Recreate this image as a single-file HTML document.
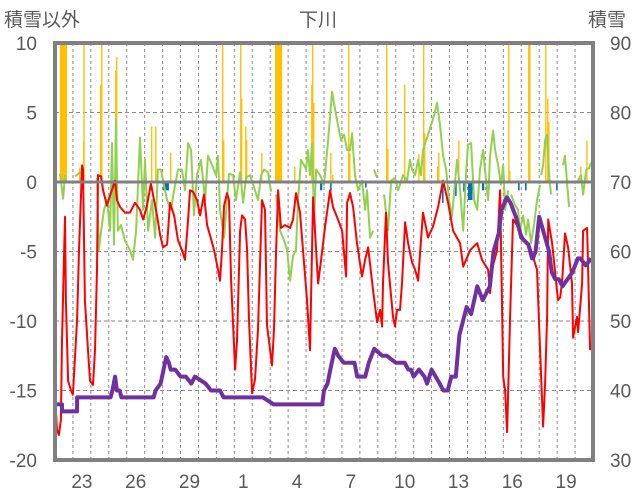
<!DOCTYPE html>
<html><head><meta charset="utf-8">
<style>
html,body{margin:0;padding:0;background:#fff;}
svg{display:block;font-family:"Liberation Sans","Noto Sans CJK JP",sans-serif;}
</style></head>
<body>
<svg id="chart" width="636" height="501" viewBox="0 0 636 501" xmlns="http://www.w3.org/2000/svg">
<text x="318" y="26" text-anchor="middle" font-size="19" fill="#595959" font-family="'Liberation Sans','Noto Sans CJK JP',sans-serif">下川</text>
<text x="4" y="26" font-size="19" fill="#595959" font-family="'Liberation Sans','Noto Sans CJK JP',sans-serif">積雪以外</text>
<text x="588" y="26" font-size="19" fill="#595959" font-family="'Liberation Sans','Noto Sans CJK JP',sans-serif">積雪</text>
<g id="grid"></g>
<g id="marks"></g>
<g id="axes"></g>
</svg>
<script>
// ---- data ----
const xLabels = ["23","26","29","1","4","7","10","13","16","19"];
const xLabelDays = [1,4,7,10,13,16,19,22,25,28];
const leftTicks = [10,5,0,-5,-10,-15,-20];
const rightTicks = [90,80,70,60,50,40,30];
const nDays = 30;

const redDay = [0,0.11,0.22,0.33,0.39,0.56,0.61,0.73,0.89,1.0,1.23,1.34,1.51,1.56,1.67,1.84,1.95,2.12,2.23,2.34,2.40,2.57,2.68,2.90,3.01,3.35,3.46,3.63,3.9,4.18,4.46,4.74,4.91,5.13,5.35,5.52,5.69,5.86,6.02,6.25,6.41,6.64,6.86,7.08,7.25,7.42,7.53,7.70,7.92,8.09,8.31,8.48,8.64,8.87,9.09,9.2,9.31,9.43,9.59,9.7,9.82,10.04,10.15,10.32,10.43,10.6,10.71,10.82,10.99,11.15,11.32,11.54,11.71,11.82,12.1,12.21,12.33,12.44,12.6,12.83,13.11,13.27,13.44,13.66,13.83,14.05,14.22,14.39,14.56,14.67,14.84,15.06,15.34,15.5,15.78,16.01,16.23,16.29,16.45,16.62,16.84,17.12,17.29,17.46,17.74,17.96,18.13,18.24,18.29,18.46,18.57,18.85,18.96,19.07,19.24,19.35,19.52,19.69,19.91,20.08,20.25,20.52,20.8,21.08,21.36,21.64,21.92,22.2,22.59,22.76,23.15,23.54,23.81,24.15,24.26,24.37,24.65,24.82,24.99,25.1,25.21,25.27,25.38,25.54,25.82,26.1,26.49,26.88,27.05,27.22,27.33,27.44,27.5,27.72,28.05,28.17,28.28,28.44,28.61,28.83,28.89,29.11,29.17,29.39,29.45,29.67,29.84];
const redVal = [-15.3,-17.8,-18.2,-17.1,-11.4,-2.5,-8.5,-14.3,-15,-15.3,-9.9,-4.9,1.2,0.9,-8.5,-12.1,-14.3,-14.6,-12.1,-6.3,0.5,0.4,-0.6,-1.7,-1.2,0.1,-1.3,-1.8,-2.2,-2.2,-1.5,-2,-2.7,-1.7,-0.1,-1.3,-2.4,-3.8,-4.7,-4.5,-1.5,-2.4,-4.2,-4.9,-5.6,-2.7,-0.6,-0.7,-1.3,-2.4,-0.9,-3.1,-3.8,-4.9,-6.3,-7.1,-4.9,-1.7,-0.8,-1.3,-7.1,-13.5,-11.4,-3.5,-2.4,-2.7,-4.9,-9.9,-15.2,-14.2,-10.6,-1.3,-2,-10.3,-13.2,-10.6,-4.9,-0.6,-3.3,-3.1,-3.3,-2.7,-0.8,-2.2,-4.9,-8.5,-12.1,-1.1,-4.9,-7.3,-5.6,-3.2,-0.6,-1.8,-2.7,-3.5,-6.8,-1.5,-0.8,-1.8,-4.4,-6.8,-5.6,-4.7,-7.8,-10.1,-9.2,-10.4,-7.3,-2.2,-5.8,-9.7,-10.4,-9.2,-9.2,-7.3,-2.9,-4.4,-5.8,-6.3,-7.1,-2.2,-4,-3.2,-1.8,0.1,-1.5,-3.5,-4.4,-6.1,-4.9,-4.4,-5.6,-6.3,-8,-6.3,-4.9,-0.6,-14,-15,-18,-15,-9.7,-2.7,-3.2,-4,-4.7,-6.3,-12.1,-17.6,-14.5,-9.7,-2.7,-4.4,-8.5,-8.3,-7.1,-3.7,-4.7,-7.3,-11.2,-9.7,-10.8,-7.3,-3.5,-3.3,-12.1];

const greenDay = [0.28,0.45,0.56,null,1.12,1.39,1.67,null,2.34,2.45,2.57,2.73,2.9,3.07,3.18,3.29,3.4,3.51,3.68,3.9,4.18,4.35,4.52,4.74,4.91,5.02,5.19,5.41,5.58,5.74,5.91,6.02,6.25,6.47,6.64,6.86,7.08,7.25,7.42,7.59,7.75,7.92,8.14,8.37,8.53,8.76,8.98,9.09,9.2,9.43,9.7,9.93,10.09,10.32,10.49,10.65,10.88,11.15,11.32,11.49,11.66,11.88,12.05,null,12.33,12.55,12.77,12.94,13.11,13.27,13.44,13.55,13.72,13.89,14,14.11,14.22,14.33,14.45,14.56,14.78,15,15.23,15.45,15.62,15.78,15.95,16.12,16.29,16.45,16.56,16.73,16.9,17.12,17.29,17.4,17.57,17.74,null,17.79,17.96,null,18.35,18.57,18.74,18.96,19.13,19.41,19.63,19.8,19.91,20.08,20.25,20.41,20.52,20.75,20.97,21.14,21.3,21.47,21.64,21.81,21.97,22.14,22.31,22.42,22.59,22.76,22.92,23.03,23.2,23.37,23.54,23.7,23.87,24.04,24.15,24.26,24.43,24.54,24.71,24.87,24.99,25.1,25.27,null,25.43,25.66,25.82,25.93,26.1,26.27,26.38,26.55,26.71,26.88,27.05,null,27.11,27.22,27.33,27.44,27.55,27.66,null,28.33,28.44,28.56,28.67,null,29.17,29.33,29.45,29.62,29.78,29.9];
const greenVal = [0.6,-1.2,0.5,null,0.4,0.7,0.4,null,0.3,-4.9,-3.5,-2,-1.3,-3.5,2.8,-4.5,4.5,-3.5,-3.1,-4.2,-4.9,-5.6,-3.5,3.2,-2,1.6,-3.5,-1.3,-4,0.9,0.9,0.1,-1.3,-2,-0.6,0.9,0.9,-0.6,2.8,2.3,-2.4,0.5,1.6,-1.3,1.9,1.2,0.5,1.9,-2,-4,0.6,0.5,-1.3,0.7,-1.5,0.3,0.5,-0.6,-1.3,0.5,0.9,0.7,-0.7,null,-0.9,-3.5,-4.2,-4.9,-7.1,-5.3,-4.9,-1.3,1.6,1.2,0.9,2.3,0.5,2.8,-2.7,0.9,0.5,-0.2,3,6.5,5.2,4.1,3,3.4,2.3,2.3,3.5,0.5,-0.6,0.1,-2,-0.6,-4,-3.5,null,0.9,0.3,null,-0.9,-3.5,0.1,0.3,-0.6,0.5,0.1,1.6,0.9,0.5,1.6,0.5,2.3,3.2,4.1,4.8,5.7,4.1,1.9,0.9,-1.3,-2.5,0.1,1.6,-0.6,-3.5,0.5,2.7,2.8,-1.3,-2,0.9,2.3,0.1,-1.3,1.9,3.7,2.3,1.2,-0.2,1.2,-2,-0.6,null,-0.9,-1.7,-2,-3.5,-2.4,-3.8,-2.7,-4.4,-3.1,-1.3,-0.2,null,0.5,1.2,3,3.4,0.5,-0.9,null,1.2,1.9,-0.2,-1.8,null,0.1,0.5,-0.9,0.9,1,1.4];

const snowDay = [0,0.39,0.39,1.23,1.23,2.0,3.1,3.2,3.35,3.45,3.6,3.7,4.3,4.5,5.5,5.61,5.89,6.2,6.35,6.45,6.7,7.0,7.3,7.6,7.8,8.4,8.7,9.2,9.4,10.5,11.6,12.2,12.6,13.0,14.9,15.0,15.2,15.35,15.6,15.8,16.1,16.7,16.85,17.3,17.5,17.8,18.25,18.5,19.0,19.5,19.7,19.85,20.0,20.3,20.6,20.75,21.0,21.45,21.65,21.9,22.1,22.35,22.55,22.95,23.2,23.55,23.85,24.25,24.45,24.75,24.9,25.2,25.4,25.7,26.0,26.4,26.5,26.6,26.65,26.8,27.0,27.55,27.7,27.9,28.1,28.3,28.85,29.0,29.15,29.3,29.6,29.9];
const snowVal = [38,38,37,37,39,39,39,40,42,40,40,39,39,39,39,40,41,44.8,44,43,43,42,42,41,42,41,40,40,39,39,39,38,38,38,38,40,41,43,46,45,44,44,42,42,44,46,45,45,44,44,43,43,42,43,42,41,43,41,40,40,42,42,48,52,51,55,53,55,60,62.7,66,67.8,67,65,62,61,60,59,59,60,65,60,57,56,56,55,57,58,59,59,58,59,58,57,57];

const yelDay = [0.28,1.34,1.56,1.58,2.51,2.57,3.35,3.4,5.35,5.58,6.41,9.31,9.37,10.32,10.37,10.6,10.65,11.49,12.27,13.33,14.28,14.33,14.39,15.34,15.45,16.34,16.4,18.46,18.52,19.46,20.25,20.52,20.58,21.3,21.36,22.48,25.27,25.32,26.38,26.44,27.33,27.44,27.5,29.28,29.62];
const yelVal = [12,1.0,2.9,12,7,12,8,9,4,4,2.1,12,3,12,6,4,3,2.1,12,1.1,7,12,5.7,2.1,0.5,12,2.1,12,2.4,7,2,12,3.5,1.1,2.1,3,12,0.8,12,12,12,6,4.3,1.1,3];
const yelHours = [9.5,1,1,1,1,1,1,1,1,1,1,1,1,1,1,1,1,1,9.5,1,1,1,1,1,1,1,1,1,1,1,1,1,1,1,1,1,1,1,1,1,1,1,1,1,1];

const blueDay = [6.02,14.78,15.34,17.29,21.58,22.31,22.76,23.03,23.81,24.15,25.82,26.21,27.94];
const blueVal = [-0.6,-0.6,-0.6,-0.4,-1.5,-1,-0.7,-1.3,-0.6,-0.6,-0.6,-0.6,-0.6];
const blueHours = [8,3,2,1,1,1,1,6,3,2,2,2,1];

// ---- layout ----
const L=55, R=593, T=43, B=460;
const NS="http://www.w3.org/2000/svg";
const dayW=(R-L)/nDays;
function xs(d){return L+d*dayW;}
function yl(v){return T+(10-v)*(B-T)/30;}
function yr(v){return T+(90-v)*(B-T)/60;}
function mk(tag,attrs,parent){const e=document.createElementNS(NS,tag);for(const k in attrs)e.setAttribute(k,attrs[k]);parent.appendChild(e);return e;}
const grid=document.getElementById('grid'), marks=document.getElementById('marks'), axes=document.getElementById('axes');

for(let i=1;i<nDays;i++){
  const g=mk('line',{x1:xs(i),x2:xs(i),y1:T,y2:B,stroke:'#8a8a8a','stroke-width':1,'stroke-dasharray':'3,3'},grid);
  
  
}
leftTicks.forEach(v=>{
  if(v===10||v===-20||v===0)return;
  const g=mk('line',{x1:L,x2:R,y1:yl(v),y2:yl(v),stroke:'#8a8a8a','stroke-width':1,'stroke-dasharray':'4,3'},grid);
  
  
});

const defs=mk('defs',{},marks);
const cp=mk('clipPath',{id:'plotclip'},defs);
mk('rect',{x:L,y:T,width:R-L,height:B-T},cp);
const mg=mk('g',{'clip-path':'url(#plotclip)'},marks);

yelDay.forEach((d,i)=>{
  const w=Math.max(1.4,yelHours[i]*dayW/24);
  const y0=yl(0), y1=yl(yelVal[i]);
  const r=mk('rect',{x:xs(d),y:y1,width:w,height:y0-y1,fill:'#FFC000'},mg);
  
  
});
blueDay.forEach((d,i)=>{
  const w=Math.max(1.6,blueHours[i]*dayW/24);
  const y0=yl(0), y1=yl(blueVal[i]);
  const r=mk('rect',{x:xs(d),y:y0,width:w,height:y1-y0,fill:'#0070C0'},mg);
  
  
});

function pathFrom(days,vals,yf){
  let d='',pen=false;
  for(let i=0;i<days.length;i++){
    if(days[i]===null){pen=false;continue;}
    const x=xs(days[i]).toFixed(1), y=yf(vals[i]).toFixed(1);
    d+=(pen?'L':'M')+x+' '+y+' ';
    pen=true;
  }
  return d;
}
const gp=mk('path',{d:pathFrom(greenDay,greenVal,yl),fill:'none',stroke:'#92D050','stroke-width':2,'stroke-linejoin':'round'},mg);


const rp=mk('path',{d:pathFrom(redDay,redVal,yl),fill:'none',stroke:'#FF0000','stroke-width':2,'stroke-linejoin':'round'},mg);


const pp=mk('path',{d:pathFrom(snowDay,snowVal,yr),fill:'none',stroke:'#7030A0','stroke-width':4,'stroke-linejoin':'round'},mg);



const z=mk('line',{x1:L,x2:R,y1:yl(0),y2:yl(0),stroke:'#808080','stroke-width':3},axes);


const fr=mk('rect',{x:L,y:T,width:R-L,height:B-T,fill:'none',stroke:'#808080','stroke-width':4},axes);



leftTicks.forEach(v=>{
  const t=mk('text',{x:37,y:yl(v)+7,'text-anchor':'end','font-size':19,fill:'#595959'},axes);
  t.textContent=String(v);
  
  
});
rightTicks.forEach(v=>{
  const t=mk('text',{x:610,y:yr(v)+7,'font-size':19,fill:'#595959'},axes);
  t.textContent=String(v);
  
  
});
xLabels.forEach((s,i)=>{
  const t=mk('text',{x:xs(xLabelDays[i]+0.5),y:488,'text-anchor':'middle','font-size':19,fill:'#595959'},axes);
  t.textContent=s;
  
  
});
</script>
</body></html>
